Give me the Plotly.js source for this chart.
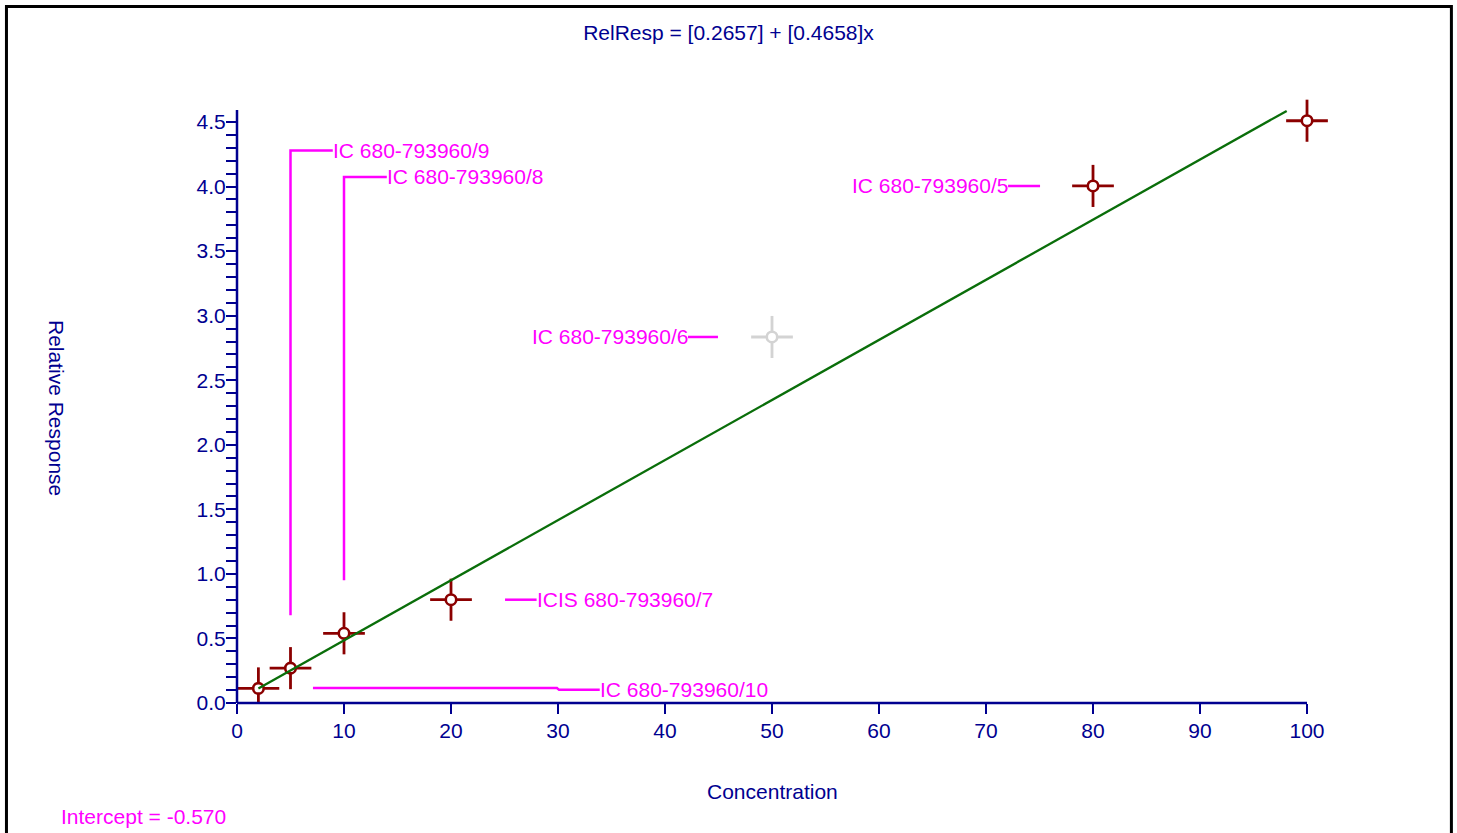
<!DOCTYPE html>
<html>
<head>
<meta charset="utf-8">
<script src="https://cdn.plot.ly/plotly-3.0.1.min.js"></script>
<style>
  html, body { margin: 0; padding: 0; background: #ffffff; }
  #chart { width: 1457px; height: 833px; }
</style>
</head>
<body>
<div id="chart"></div>
<script>
// Calibration standards: concentration vs. relative response
const concentration = [2, 5, 10, 20, 50, 80, 100];
const relResponse   = [0.113, 0.27, 0.54, 0.80, 2.835, 4.005, 4.51];
const excluded      = [false, false, false, false, true, false, false];
const sampleNames   = ['IC 680-793960/10', 'IC 680-793960/9', 'IC 680-793960/8',
                       'ICIS 680-793960/7', 'IC 680-793960/6', 'IC 680-793960/5', ''];

// Uncertainty cross half-sizes
const concError = 1.95;
const respError = 0.163;

// Fitted calibration line end points
const fitX = [2, 98.1];
const fitY = [0.113, 4.586];

const titleText = 'RelResp = [0.2657] + [0.4658]x';
const interceptText = 'Intercept = -0.570';
const xAxisTitle = 'Concentration';
const yAxisTitle = 'Relative Response';
const xTickVals = [0, 10, 20, 30, 40, 50, 60, 70, 80, 90, 100];
const yTickVals = [0, 0.5, 1, 1.5, 2, 2.5, 3, 3.5, 4, 4.5];
const yTickText = ['0.0', '0.5', '1.0', '1.5', '2.0', '2.5', '3.0', '3.5', '4.0', '4.5'];

// Drawn axis extents (the plotting window is a little larger so crosses at the edge stay whole)
const xAxisMax = 100, yAxisMax = 4.593;
const xView = 102.99, yView = 4.748;

const NAVY = '#000090';
const MAGENTA = '#ff00ff';
const DARKRED = '#8b0000';
const GREY = '#d3d3d3';
const FONT = 'Liberation Sans, Arial, sans-serif';

function pick(arr, keep) { return arr.filter((_, i) => keep(i)); }
const usedIdx = i => !excluded[i];
const exclIdx = i => excluded[i];

function pointTrace(idx, color) {
  return {
    type: 'scatter', mode: 'markers', cliponaxis: false, hoverinfo: 'skip',
    x: pick(concentration, idx), y: pick(relResponse, idx),
    marker: { symbol: 'circle', size: 10.5, color: '#ffffff', line: { color: color, width: 2.6 } },
    error_x: { type: 'constant', value: concError, color: color, thickness: 2.8, width: 0 },
    error_y: { type: 'constant', value: respError, color: color, thickness: 2.8, width: 0 }
  };
}

const traces = [
  pointTrace(exclIdx, GREY),
  pointTrace(usedIdx, DARKRED),
  { type: 'scatter', mode: 'lines', x: fitX, y: fitY, hoverinfo: 'skip',
    line: { color: '#0a6e0a', width: 2.3 } }
];

// Label placement: leader path (data coords) and text anchor for each standard
const labelLayout = [
  { i: 0, path: [[7.1, 0.116], [29.9, 0.116], [30.1, 0.102], [33.9, 0.102]], anchor: 'left' },
  { i: 1, path: [[5, 0.68], [5, 4.28], [8.95, 4.28]], anchor: 'left' },
  { i: 2, path: [[10, 0.95], [10, 4.075], [14.0, 4.075]], anchor: 'left' },
  { i: 3, path: [[25.05, relResponse[3]], [28.0, relResponse[3]]], anchor: 'left' },
  { i: 4, path: [[44.95, relResponse[4]], [42.15, relResponse[4]]], anchor: 'right' },
  { i: 5, path: [[75.05, relResponse[5]], [72.06, relResponse[5]]], anchor: 'right' }
];

const shapes = [];
const annotations = [];
labelLayout.forEach(l => {
  const d = l.path.map((p, k) => (k ? 'L' : 'M') + p[0] + ',' + p[1]).join(' ');
  shapes.push({ type: 'path', xref: 'x', yref: 'y', path: d,
                line: { color: MAGENTA, width: 2.5 } });
  const end = l.path[l.path.length - 1];
  annotations.push({ x: end[0], y: end[1], xref: 'x', yref: 'y', text: sampleNames[l.i],
                     showarrow: false, xanchor: l.anchor, yanchor: 'middle',
                     xshift: l.anchor === 'left' ? -2 : 2,
                     font: { family: FONT, size: 21, color: MAGENTA } });
});

// Axis lines, stopping at the axis extents
shapes.push({ type: 'line', xref: 'x domain', yref: 'y domain', layer: 'above',
              x0: 0, x1: xAxisMax / xView, y0: 0, y1: 0,
              line: { color: NAVY, width: 2.5 } });
shapes.push({ type: 'line', xref: 'x domain', yref: 'y domain', layer: 'above',
              x0: 0, x1: 0, y0: 0, y1: yAxisMax / yView,
              line: { color: NAVY, width: 2.5 } });

// Outer frame
shapes.push({ type: 'rect', xref: 'paper', yref: 'paper', layer: 'above',
              x0: -0.2092, x1: 1.1020, y0: -0.232, y1: 1.1362,
              line: { color: '#000000', width: 3 } });

annotations.push({ xref: 'paper', yref: 'paper', x: -0.1633, y: 0.4812, textangle: 90,
                   text: yAxisTitle, showarrow: false, xanchor: 'center', yanchor: 'middle',
                   font: { family: FONT, size: 21, color: NAVY } });
annotations.push({ xref: 'paper', yref: 'paper', x: 535 / 1102, y: -0.1436,
                   text: xAxisTitle, showarrow: false, xanchor: 'center', yanchor: 'middle',
                   font: { family: FONT, size: 21, color: NAVY } });
annotations.push({ xref: 'paper', yref: 'paper', x: -0.1615, y: -0.1845,
                   text: interceptText, showarrow: false, xanchor: 'left', yanchor: 'middle',
                   font: { family: FONT, size: 21, color: MAGENTA } });

const layout = {
  width: 1457, height: 833,
  margin: { l: 237, r: 118, t: 90, b: 130 },
  paper_bgcolor: '#ffffff', plot_bgcolor: '#ffffff',
  showlegend: false,
  font: { family: FONT, size: 21, color: NAVY },
  title: { text: titleText, x: 0.5, xref: 'container', xanchor: 'center',
           y: 1 - 33 / 833, yref: 'container', yanchor: 'middle',
           font: { family: FONT, size: 21, color: NAVY } },
  xaxis: {
    range: [0, xView], tickvals: xTickVals,
    showgrid: false, zeroline: false, showline: false,
    ticks: 'outside', ticklen: 10, tickwidth: 2, tickcolor: NAVY,
    ticklabelstandoff: -1,
    tickfont: { family: FONT, size: 21, color: NAVY }
  },
  yaxis: {
    range: [0, yView],
    tickvals: yTickVals, ticktext: yTickText,
    showgrid: false, zeroline: false, showline: false,
    ticks: 'outside', ticklen: 10, tickwidth: 2, tickcolor: NAVY,
    ticklabelstandoff: -4,
    minor: { tickmode: 'array',
             tickvals: Array.from({ length: 46 }, (_, k) => +(k * 0.1).toFixed(1)),
             ticks: 'outside', ticklen: 10, tickwidth: 2, tickcolor: NAVY, showgrid: false },
    tickfont: { family: FONT, size: 21, color: NAVY }
  },
  shapes: shapes,
  annotations: annotations
};

Plotly.newPlot('chart', traces, layout, { displayModeBar: false, staticPlot: true });
</script>
</body>
</html>
